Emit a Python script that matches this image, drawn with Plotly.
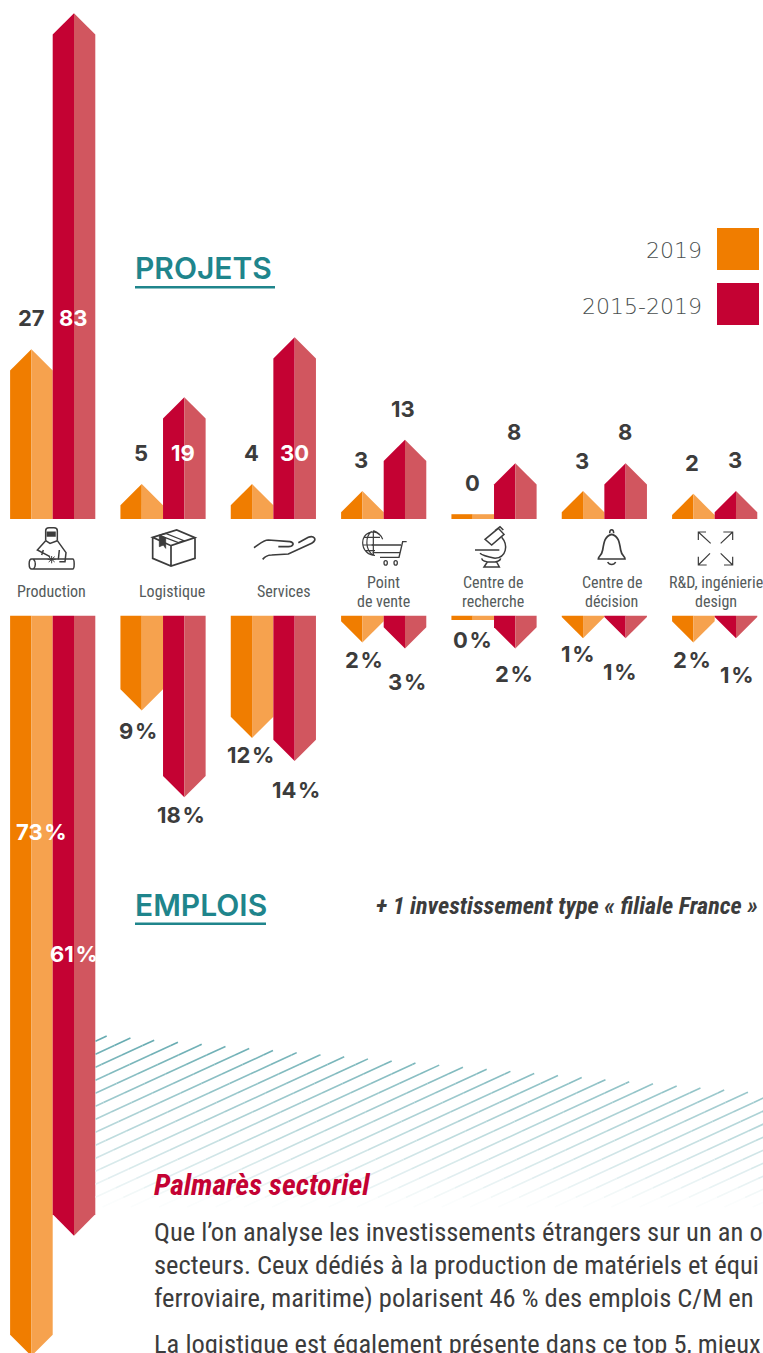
import re
import plotly.graph_objects as go

W, H = 763, 1353
categories = ["Production", "Logistique", "Services", "Point de vente", "Centre de recherche", "Centre de décision", "R&D, ingénierie design"]
category_lines = [["Production"], ["Logistique"], ["Services"], ["Point", "de vente"], ["Centre de", "recherche"], ["Centre de", "décision"], ["R&D, ingénierie", "design"]]

# values printed on the chart
projets_2019 = [27, 5, 4, 3, 0, 3, 2]
projets_1519 = [83, 19, 30, 13, 8, 8, 3]
emplois_2019 = [73, 9, 12, 2, 0, 1, 2]
emplois_1519 = [61, 18, 14, 3, 2, 1, 1]

# arrow lengths, in axis units
projets_2019_drawn = [28.3, 5.83, 5.83, 4.67, 0.8, 4.67, 4.2]
projets_1519_drawn = [84.3, 20.3, 30.3, 13.2, 9.3, 9.3, 4.67]
emplois_2019_drawn = [72.96, 9.36, 12.07, 2.66, 0.45, 2.25, 2.66]
emplois_1519_drawn = [61.1, 17.9, 14.33, 3.25, 3.25, 2.25, 2.25]

ORANGE, ORANGE_L, RED, RED_L = "#F07D00", "#F6A24E", "#C40233", "#D1565F"
TEAL, DARK, GREY = "#1F858C", "#3C3C3C", "#555B5B"
NUM_FONT = "Inter"
COND = "Roboto Condensed, Liberation Sans Narrow, Roboto"

BASE_UP, BASE_LOW = 519.0, 615.5
PX_UP, PX_LOW = 6.0, 10.15
STEP = 110.33
X0 = 52.7
HALF = 21.3 / STEP
TIP_PX = 21.3

fig = go.Figure()

# background hatching (decor, pixel layer)
n_bands = 18
band_x = [[] for _ in range(n_bands)]
band_y = [[] for _ in range(n_bands)]
YT, YB = 1036.0, 1207.0
SL = 0.46
for i in range(38):
    xt, yt = 106.7 + 23.75 * i, 1036 + 2.08 * i
    c = yt + SL * xt
    yend = min(YB, c - SL * 95.5)
    for b in range(n_bands):
        a = YT + (YB - YT) * b / n_bands
        e = YT + (YB - YT) * (b + 1) / n_bands
        s0, s1 = max(a, yt), min(e, yend)
        if s1 > s0:
            band_x[b] += [(c - s0) / SL, (c - s1) / SL, None]
            band_y[b] += [s0, s1, None]
for b in range(n_bands):
    t = (b + 0.5) / n_bands
    col = tuple(round(v + (255 - v) * t) for v in (100, 170, 176))
    fig.add_trace(go.Scatter(x=band_x[b], y=band_y[b], xaxis="x2", yaxis="y3", mode="lines",
                             line=dict(color="rgb(%d,%d,%d)" % col, width=1.6), hoverinfo="skip", showlegend=False))


def arrow(ax, i, offset, length, px_per_unit, flat, col_left, col_right):
    cx = i + offset
    tip = 0 if flat else TIP_PX / px_per_unit
    sh = max(0, length - tip)
    for side, col in ((-1, col_left), (1, col_right)):
        fig.add_trace(go.Scatter(
            x=[cx, cx + side * HALF, cx + side * HALF, cx, cx],
            y=[0, 0, sh, length, 0],
            xaxis="x", yaxis=ax, mode="lines", fill="toself", fillcolor=col,
            line=dict(width=0, color=col), hoverinfo="skip", showlegend=False))


for i in range(len(categories)):
    arrow("y", i, -HALF, projets_2019_drawn[i], PX_UP, projets_2019[i] == 0, ORANGE, ORANGE_L)
    arrow("y", i, HALF, projets_1519_drawn[i], PX_UP, False, RED, RED_L)
    arrow("y2", i, -HALF, emplois_2019_drawn[i], PX_LOW, emplois_2019[i] == 0, ORANGE, ORANGE_L)
    arrow("y2", i, HALF, emplois_1519_drawn[i], PX_LOW, False, RED, RED_L)

ann = []


def text(x, y, s, size, color=DARK, font=NUM_FONT, anchor="center", weight="normal", italic=False):
    shift = {"left": -2, "right": 2, "center": 0}[anchor]
    ann.append(dict(x=x, y=y, xref="x2", yref="y3", text=s, showarrow=False, xanchor=anchor, yanchor="middle",
                    xshift=shift, align="left",
                    font=dict(size=size, color=color, family=font, weight=weight,
                              style="italic" if italic else "normal")))


# value labels: centres in pixels
proj_pos_2019 = [(31, 318), (141, 453), (251, 453), (361, 460), (472, 483), (582, 461), (692, 463)]
proj_pos_1519 = [(73, 318), (183, 453), (294, 453), (403, 409), (514, 432), (625, 432), (735, 460)]
empl_pos_2019 = [(41, 832), (138, 731), (250, 755), (364, 660), (472, 640), (578, 654), (692, 660)]
empl_pos_1519 = [(74, 954), (181, 815), (296, 790), (407, 682), (514, 674), (620, 672), (737, 675)]
white_proj_1519 = {0, 1, 2}
HAIR = "\u200a"
for i in range(7):
    text(*proj_pos_2019[i], str(projets_2019[i]), 22, DARK, weight=700)
    text(*proj_pos_1519[i], str(projets_1519[i]), 22, "#FFFFFF" if i in white_proj_1519 else DARK, weight=700)
    text(*empl_pos_2019[i], "%d%s%%" % (emplois_2019[i], HAIR), 22, "#FFFFFF" if i == 0 else DARK, weight=700)
    text(*empl_pos_1519[i], "%d%s%%" % (emplois_1519[i], HAIR), 22, "#FFFFFF" if i == 0 else DARK, weight=700)

cat_centres = [51.5, 172, 283.5, 383, 493, 611.5, 715.5]
for cx, lines in zip(cat_centres, category_lines):
    if len(lines) == 1:
        text(cx, 591.5, lines[0], 16, GREY, COND)
    else:
        text(cx, 582.5, lines[0], 16, GREY, COND)
        text(cx, 601.5, lines[1], 16, GREY, COND)

text(135, 268, "PROJETS", 30, TEAL, anchor="left", weight=600)
text(135, 905, "EMPLOIS", 30, TEAL, anchor="left", weight=600)
text(702, 250, "2019", 22, "#4A4F4F", "DejaVu Sans", anchor="right", weight=200)
text(702, 306, "2015-2019", 22, "#4A4F4F", "DejaVu Sans", anchor="right", weight=200)
text(376, 906, "+ 1 investissement type « filiale France »", 24.2, DARK, COND, "left", "bold", True)
text(154, 1184, "Palmarès sectoriel", 29.7, RED, COND, "left", "bold", True)
body = ["Que l’on analyse les investissements étrangers sur un an o",
        "secteurs. Ceux dédiés à la production de matériels et équi",
        "ferroviaire, maritime) polarisent 46 % des emplois C/M en",
        "La logistique est également présente dans ce top 5, mieux"]
for y, s in zip([1231, 1264, 1297, 1343], body):
    text(154, y, s, 26.5, DARK, COND, "left")

shapes = []


def rect(x0, y0, x1, y1, color):
    shapes.append(dict(type="rect", xref="x2", yref="y3", x0=x0, y0=y0, x1=x1, y1=y1,
                       fillcolor=color, line=dict(width=0)))


rect(717, 228, 759, 270, ORANGE)
rect(717, 283, 759, 325, RED)
rect(135, 286, 275, 288.5, TEAL)
rect(135, 922.5, 266, 925, TEAL)


def icon(path, ox, oy=500, fill=None, width=1.5):
    toks = re.findall(r"[MLCZ]|-?\d+\.?\d*", path)
    out, is_x = [], True
    for t in toks:
        if t in "MLCZ":
            out.append(t)
            is_x = True
        else:
            v = float(t)
            out.append("%.2f" % (ox + v / 3 if is_x else oy + v / 3))
            is_x = not is_x
    s = re.sub(r"([MLCZ]) ", r"\1", " ".join(out))
    shapes.append(dict(type="path", xref="x2", yref="y3", path=s, fillcolor=fill or "rgba(0,0,0,0)",
                       line=dict(color=DARK, width=width)))


# welder
icon("M137 122 L137 92 C137 86 142 83 147 83 L162 83 C168 83 172 86 172 92 L172 122", 0)
icon("M142 97 L165 97 L165 108 L142 108 Z", 0, fill=DARK)
icon("M137 122 L112 150 L150 170 M172 122 L198 158 L195 185 L178 185 M137 122 L150 130 L172 122 M130 150 L125 165 M178 150 L175 178", 0)
icon("M100 177 L218 177 C224 177 224 207 218 207 L95 207 C85 207 85 177 95 177 L100 177 M100 177 C108 185 108 200 100 207", 0)
icon("M143 178 L167 178 M155 168 L155 190 M146 170 L164 186 M146 186 L164 170", 0, width=1)
# box
icon("M458 112 L530 90 L585 113 L513 137 Z M458 112 L458 175 L513 198 L585 175 L585 113 M513 137 L513 198", 0, width=1.7)
icon("M478 106 L535 128 L552 122 L497 100 Z", 0, width=1.2)
icon("M478 106 L478 140 L490 135 L497 145 L497 113 Z", 0, fill=DARK, width=0.8)
# hand
icon("M762 143 C775 135 790 120 805 120 L870 125 C885 128 880 140 865 140 L835 140", 0, width=1.7)
icon("M788 178 C795 170 800 165 815 165 L865 162 L935 130 C955 118 940 105 925 112 L895 128", 0, width=1.7)
# globe + cart
icon("M1140 105 C1120 85 1088 100 1088 128 C1088 150 1105 166 1125 166 M1115 94 C1095 110 1095 150 1120 166 M1120 92 L1120 166 M1092 112 L1140 112 M1088 135 L1118 135 M1096 152 L1125 152 M1120 92 C1135 97 1143 105 1148 118", 0, width=1.2)
icon("M80 125 L68 125 L57 172 L0 172 M-25 135 L63 135 M-22 158 L60 158", 380, width=1.4)
icon("M12 188 C12 198 22 198 22 188 C22 180 12 180 12 188 M42 188 C42 198 52 198 52 188 C52 180 42 180 42 188", 380, width=1.3)
# microscope
icon("M315 118 L355 85 L372 103 L335 135 Z M345 92 L360 80 L370 90", 380)
icon("M365 112 C385 135 380 172 345 175 M285 150 L358 150 M300 160 C305 165 330 172 345 175 M305 175 C308 190 360 190 362 175 M322 186 L312 201 L358 201 L350 186", 380)
# bell
icon("M655 177 L735 177 C735 168 725 168 722 150 C718 125 715 108 695 103 C675 108 672 125 668 150 C665 168 655 168 655 177 Z", 380, width=1.7)
icon("M689 100 C689 86 701 86 701 100 M683 186 C688 196 702 196 707 186", 380)
# expand arrows
icon("M955 120 L955 96 L978 96 M955 96 L992 130 M1030 96 L1058 96 L1058 120 M1058 96 L1022 130 M955 170 L955 195 L980 195 M955 195 L990 160 M1058 170 L1058 195 L1032 195 M1058 195 L1022 160", 380, width=1.2)

hidden = dict(visible=False, fixedrange=True)
fig.update_layout(
    width=W, height=H, margin=dict(l=0, r=0, t=0, b=0, pad=0), autosize=False,
    paper_bgcolor="white", plot_bgcolor="rgba(0,0,0,0)", showlegend=False,
    xaxis=dict(range=[-X0 / STEP, (W - X0) / STEP], domain=[0, 1], anchor="y", tickvals=list(range(7)), ticktext=categories, **hidden),
    yaxis=dict(range=[0, BASE_UP / PX_UP], domain=[1 - BASE_UP / H, 1], anchor="x", **hidden),
    yaxis2=dict(range=[(H - BASE_LOW) / PX_LOW, 0], domain=[0, 1 - BASE_LOW / H], anchor="x", **hidden),
    xaxis2=dict(range=[0, W], domain=[0, 1], anchor="y3", **hidden),
    yaxis3=dict(range=[H, 0], domain=[0, 1], anchor="x2", **hidden),
    annotations=ann, shapes=shapes,
)
fig.write_html("out.html", config=dict(displayModeBar=False),
               post_script="document.body.style.margin='0';document.body.style.overflow='hidden';")
